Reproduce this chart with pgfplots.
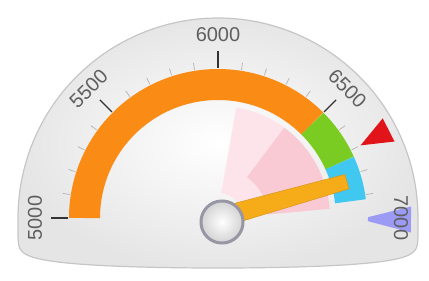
\documentclass[border=0pt]{standalone}
\usepackage{pgfplots}
\pgfplotsset{compat=1.18}
\usepackage{fontspec}
\setmainfont{Liberation Sans}
\definecolor{band1}{RGB}{250,140,22}
\definecolor{band2}{RGB}{122,204,34}
\definecolor{band3}{RGB}{64,200,240}
\definecolor{needle}{RGB}{246,172,24}
\definecolor{redm}{RGB}{225,20,25}
\definecolor{bluem}{RGB}{155,155,245}
\definecolor{pinkA}{RGB}{252,228,234}
\definecolor{pinkB}{RGB}{247,180,195}
\definecolor{lbl}{RGB}{95,95,95}
\definecolor{pivring}{RGB}{150,150,165}
\def\cx{218}\def\cy{63}
\begin{document}
\begin{tikzpicture}
\begin{axis}[width=429bp,height=281bp,scale only axis,
  xmin=0,xmax=429,ymin=0,ymax=281,hide axis,clip=false,
  declare function={ang(\v)=180-(\v-5000)*0.09;}]
\addplot[draw=none] coordinates {(0,0) (429,281)};
% frame
\addplot[draw=gray!45, line width=1.2bp, inner color=white, outer color=gray!20, domain=0:360, samples=241]
 ({\cx+200*cos(x)}, {x<=180 ? \cy+200*sin(x) : \cy-50*(abs(sin(x))+0.0001)^0.25}) -- cycle;
% pink ranges
\addplot[color=pinkA, line width=87bp, domain=6100:6950, samples=50]
 ({\cx+68.5*cos(ang(x))},{\cy+68.5*sin(ang(x))});
\addplot[color=pinkB, opacity=0.55, line width=62bp, domain=6400:6950, samples=30]
 ({\cx+81*cos(ang(x))},{\cy+81*sin(ang(x))});
% bands
\addplot[color=band1, line width=31bp, domain=5000:6500, samples=90]
 ({\cx+133.5*cos(ang(x))},{\cy+133.5*sin(ang(x))});
\addplot[color=band2, line width=31bp, domain=6500:6730, samples=20]
 ({\cx+133.5*cos(ang(x))},{\cy+133.5*sin(ang(x))});
\addplot[color=band3, line width=31bp, domain=6730:6920, samples=20]
 ({\cx+133.5*cos(ang(x))},{\cy+133.5*sin(ang(x))});
% ticks
\pgfplotsinvokeforeach{5000,5100,...,7000}{
\addplot[color=gray!60, line width=0.7bp, domain=150:157, samples=2]
 ({\cx+x*cos(ang(#1))},{\cy+x*sin(ang(#1))});}
\pgfplotsinvokeforeach{5000,5500,...,7000}{
\addplot[color=gray!40!black, line width=1.3bp, domain=150:167, samples=2]
 ({\cx+x*cos(ang(#1))},{\cy+x*sin(ang(#1))});}
% red marker
\addplot[fill=redm, draw=none] table[
 x expr={\cx+\thisrow{r}*cos(ang(\thisrow{v}))-\thisrow{w}*sin(ang(\thisrow{v}))},
 y expr={\cy+\thisrow{r}*sin(ang(\thisrow{v}))+\thisrow{w}*cos(ang(\thisrow{v}))}] {
v r w
6700 160 0
6700 192 14
6700 192 -12
} -- cycle;
% blue marker
\addplot[fill=bluem, draw=none] table[
 x expr={\cx+\thisrow{r}*cos(ang(\thisrow{v}))-\thisrow{w}*sin(ang(\thisrow{v}))},
 y expr={\cy+\thisrow{r}*sin(ang(\thisrow{v}))+\thisrow{w}*cos(ang(\thisrow{v}))}] {
v r w
7005 150 2
7005 193 13
7005 193 -13
7005 150 -2
} -- cycle;
% needle
\addplot[fill=needle, draw=needle!85!black, line width=0.4bp] table[
 x expr={\cx+\thisrow{r}*cos(ang(\thisrow{v}))-\thisrow{w}*sin(ang(\thisrow{v}))},
 y expr={\cy+\thisrow{r}*sin(ang(\thisrow{v}))+\thisrow{w}*cos(ang(\thisrow{v}))}] {
v r w
6825 0 10
6825 134 7.5
6825 134 -7.5
6825 0 -10
} -- cycle;
% pivot
\addplot[draw=pivring, line width=3bp, inner color=white, outer color=gray!35, domain=0:360, samples=73]
 ({222+21*cos(x)},{59+21*sin(x)}) -- cycle;
% labels
\pgfplotsinvokeforeach{5000,5500,...,7000}{
\node[font=\fontsize{20bp}{20bp}\selectfont, text=lbl, rotate={ang(#1)-90}]
 at (axis cs:{\cx+183*cos(ang(#1))},{\cy+183*sin(ang(#1))}) {#1};}
\end{axis}
\end{tikzpicture}
\end{document}
